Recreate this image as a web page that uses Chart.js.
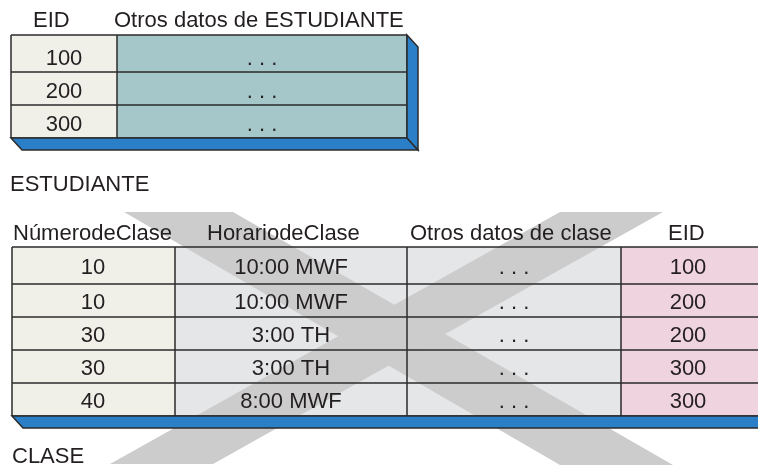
<!DOCTYPE html>
<html>
<head>
<meta charset="utf-8">
<script src="https://cdn.jsdelivr.net/npm/chart.js@4"></script>
<style>
  html, body { margin: 0; padding: 0; background: #fff; }
  #tablas { display: block; }
</style>
</head>
<body>
<canvas id="tablas" width="758" height="468"></canvas>
<script>
// datos de las tablas
const estudianteEncabezados = ['EID', 'Otros datos de ESTUDIANTE'];
const estudianteIds = ['100', '200', '300'];
const estudianteOtros = ['. . .', '. . .', '. . .'];

const claseEncabezados = ['NúmerodeClase', 'HorariodeClase', 'Otros datos de clase', 'EID'];
const claseNumeros = ['10', '10', '30', '30', '40'];
const claseHorarios = ['10:00 MWF', '10:00 MWF', '3:00 TH', '3:00 TH', '8:00 MWF'];
const claseOtros = ['. . .', '. . .', '. . .', '. . .', '. . .'];
const claseEids = ['100', '200', '200', '300', '300'];

const nombresTablas = ['ESTUDIANTE', 'CLASE'];

// disposicion (en unidades de las escalas, 1 unidad = 1 px)
const colsEst = [11, 117, 407];
const filasEst = [35, 72, 105, 138];
const colsCla = [12, 175, 407, 621, 790];
const filasCla = [247, 284, 317, 350, 383, 416];
const prof = { dx: 11, dy: 12 };

const FUENTE = '22px "Liberation Sans", Arial, sans-serif';
const TINTA = '#231f20';
const AZUL = '#2a7fc6';

const tablasPlugin = {
  id: 'tablas',
  beforeDatasetsDraw(chart) {
    const c = chart.ctx;
    const X = v => chart.scales.x.getPixelForValue(v);
    const Y = v => chart.scales.y.getPixelForValue(v);

    function rect(x0, y0, x1, y1, fill) {
      c.fillStyle = fill;
      c.fillRect(X(x0), Y(y0), X(x1) - X(x0), Y(y1) - Y(y0));
    }
    function poly(pts, fill, stroke) {
      c.beginPath();
      pts.forEach((p, i) => i ? c.lineTo(X(p[0]), Y(p[1])) : c.moveTo(X(p[0]), Y(p[1])));
      c.closePath();
      c.fillStyle = fill;
      c.fill();
      if (stroke) { c.strokeStyle = stroke; c.lineWidth = 1.5; c.stroke(); }
    }
    function texto(t, x, y, align) {
      c.fillStyle = TINTA;
      c.font = FUENTE;
      c.textAlign = align || 'center';
      c.textBaseline = 'alphabetic';
      c.fillText(t, X(x), Y(y));
    }
    function rejilla(cols, filas) {
      c.strokeStyle = '#2b2b2b';
      c.lineWidth = 1.5;
      c.beginPath();
      filas.forEach(f => { c.moveTo(X(cols[0]), Y(f)); c.lineTo(X(cols[cols.length - 1]), Y(f)); });
      cols.forEach(k => { c.moveTo(X(k), Y(filas[0])); c.lineTo(X(k), Y(filas[filas.length - 1])); });
      c.stroke();
    }

    c.save();
    // --- tabla ESTUDIANTE ---
    rect(colsEst[0], filasEst[0], colsEst[1], filasEst[3], '#f1f0e8');
    rect(colsEst[1], filasEst[0], colsEst[2], filasEst[3], '#a6c7c9');

    // --- tabla CLASE ---
    const fondosCla = ['#f1f0e8', '#e5e6e8', '#e5e6e8', '#efd3de'];
    fondosCla.forEach((f, i) => rect(colsCla[i], filasCla[0], colsCla[i + 1], filasCla[5], f));

    // --- la X gris ---
    const gris = '#cccccc';
    poly([[124, 212], [233, 212], [673, 465], [560, 465]], gris);
    poly([[560, 212], [663, 212], [213, 464], [110, 464]], gris);

    // encabezados y nombres
    texto(estudianteEncabezados[0], 33, 27, 'left');
    texto(estudianteEncabezados[1], 114, 27, 'left');
    const xEncCla = [13, 207, 410, 668];
    claseEncabezados.forEach((t, i) => texto(t, xEncCla[i], 240, 'left'));
    texto(nombresTablas[0], 10, 191, 'left');
    texto(nombresTablas[1], 12, 463, 'left');

    // contenido ESTUDIANTE
    estudianteIds.forEach((v, i) => {
      const yb = filasEst[i + 1] - 7;
      texto(v, (colsEst[0] + colsEst[1]) / 2, yb);
      texto(estudianteOtros[i], (colsEst[1] + colsEst[2]) / 2, yb);
    });
    // contenido CLASE
    const colsDatos = [claseNumeros, claseHorarios, claseOtros, claseEids];
    const centros = [93, 291, 514, 688];
    claseNumeros.forEach((_, i) => {
      const yb = (filasCla[i] + filasCla[i + 1]) / 2 + 8;
      colsDatos.forEach((col, j) => texto(col[i], centros[j], yb));
    });

    rejilla(colsEst, filasEst);
    rejilla(colsCla, filasCla);

    // caras azules (3D)
    const a = colsEst[0], b = colsEst[2], t = filasEst[0], u = filasEst[3];
    poly([[a, u], [b, u], [b + prof.dx, u + prof.dy], [a + prof.dx, u + prof.dy]], AZUL, '#2b2b2b');
    poly([[b, t], [b + prof.dx, t + prof.dy], [b + prof.dx, u + prof.dy], [b, u]], AZUL, '#2b2b2b');
    const a2 = colsCla[0], u2 = filasCla[5];
    poly([[a2, u2], [790, u2], [790, u2 + prof.dy], [a2 + prof.dx, u2 + prof.dy]], AZUL, '#2b2b2b');
    c.restore();
  }
};

new Chart(document.getElementById('tablas').getContext('2d'), {
  type: 'scatter',
  data: { datasets: [{ data: [], pointRadius: 0 }] },
  options: {
    responsive: false,
    animation: false,
    events: [],
    layout: { padding: 0 },
    plugins: { legend: { display: false }, tooltip: { enabled: false } },
    scales: {
      x: { type: 'linear', min: 0, max: 758, display: false },
      y: { type: 'linear', min: 0, max: 468, reverse: true, display: false }
    }
  },
  plugins: [tablasPlugin]
});
</script>
</body>
</html>
